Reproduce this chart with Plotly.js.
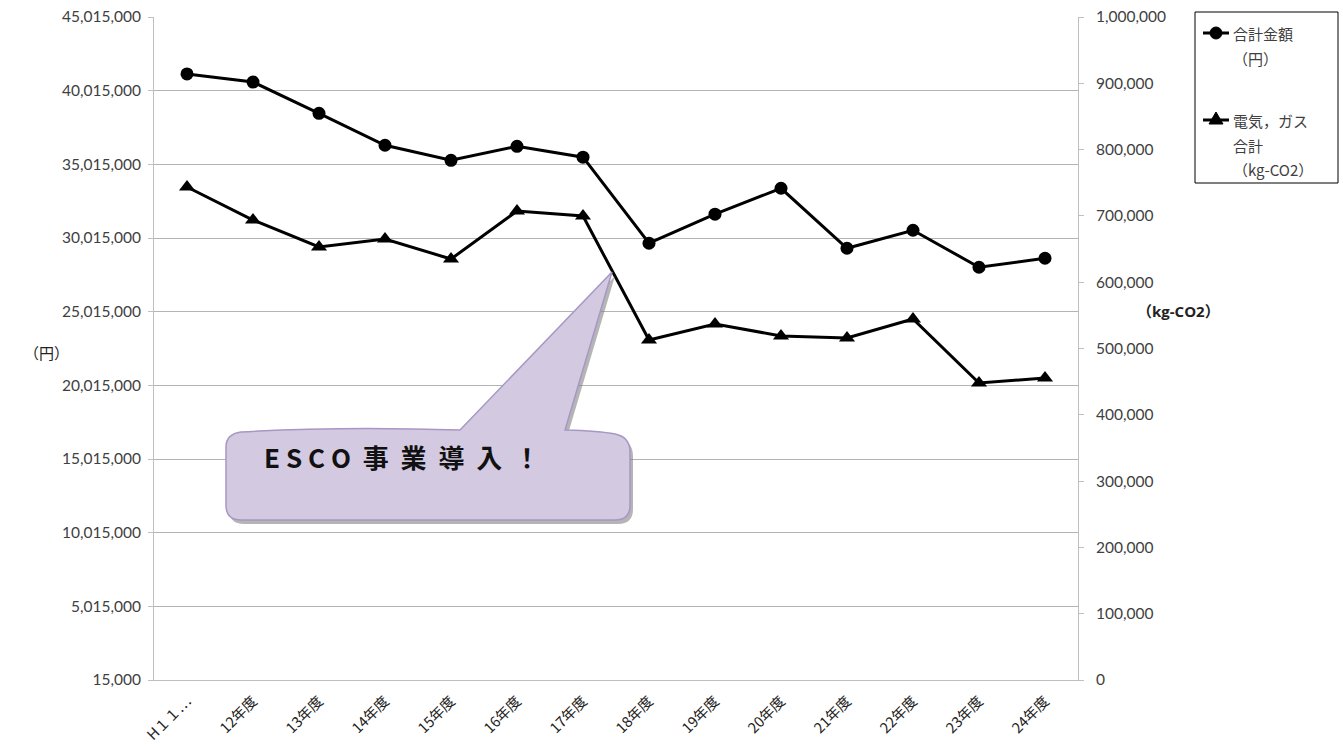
<!DOCTYPE html>
<html>
<head>
<meta charset="utf-8">
<script src="https://cdn.plot.ly/plotly-3.0.1.min.js"></script>
<style>html,body{margin:0;padding:0;background:#fff;}#chart{width:1343px;height:747px;}</style>
</head>
<body>
<div id="chart"></div>
<script>
const categories = ["H１１…","12年度","13年度","14年度","15年度","16年度","17年度","18年度","19年度","20年度","21年度","22年度","23年度","24年度"];
const costYen = [41150000,40600000,38480000,36310000,35290000,36240000,35500000,29660000,31630000,33390000,29320000,30540000,28030000,28640000];
const co2Kg = [743600,693800,653100,665200,635000,707400,699800,512800,537000,518900,515800,544500,448000,455500];
const seriesNames = ["合計金額（円）","電気，ガス合計（kg-CO2）"];
const legendLines = [["合計金額","（円）"],["電気，ガス","合計","（kg-CO2）"]];
const leftAxisLabel = "（円）";
const rightAxisLabel = "（kg-CO2）";
const calloutText = "E S C O  事  業  導  入  ！";

const L = 154, R = 1078, T = 17, B = 680, W = 1343, H = 747;
const pxn = x => (x - L) / (R - L);
const pyn = y => (B - y) / (B - T);
const px = x => pxn(x).toFixed(5);
const py = y => pyn(y).toFixed(5);
function calloutPath(dx, dy) {
  const p = (x, y) => px(x + dx) + "," + py(y + dy);
  return "M" + p(241,432) + " Q" + p(340,426) + " " + p(460,430) + " L" + p(612,272) + " L" + p(565,430) +
    " Q" + p(600,431) + " " + p(615,434) + " Q" + p(630,437) + " " + p(630,452) + " L" + p(630,505) +
    " Q" + p(630,520) + " " + p(615,520) + " L" + p(241,520) + " Q" + p(226,520) + " " + p(226,505) +
    " L" + p(226,447) + " Q" + p(226,434) + " " + p(241,432) + " Z";
}

const jp = "Noto Sans CJK JP";
const traces = [
  {x: categories, y: costYen, name: seriesNames[0], type: "scatter", mode: "lines+markers",
   line: {color: "#000", width: 3}, marker: {symbol: "circle", size: 13, color: "#000"}, yaxis: "y"},
  {x: categories, y: co2Kg, name: seriesNames[1], type: "scatter", mode: "lines+markers",
   line: {color: "#000", width: 3}, marker: {symbol: "triangle-up", size: 14, color: "#000"}, yaxis: "y2"}
];

// custom legend (decoration)
const legShapes = [
  {type: "rect", xref: "paper", yref: "paper", x0: pxn(1195), x1: pxn(1338), y0: pyn(12), y1: pyn(183),
   line: {color: "#000", width: 1}, fillcolor: "#fff"},
  {type: "line", xref: "paper", yref: "paper", x0: pxn(1203), x1: pxn(1229), y0: pyn(33), y1: pyn(33),
   line: {color: "#000", width: 3}},
  {type: "circle", xref: "paper", yref: "paper", x0: pxn(1210), x1: pxn(1222), y0: pyn(27), y1: pyn(39),
   fillcolor: "#000", line: {color: "#000", width: 1}},
  {type: "line", xref: "paper", yref: "paper", x0: pxn(1203), x1: pxn(1229), y0: pyn(120), y1: pyn(120),
   line: {color: "#000", width: 3}},
  {type: "path", xref: "paper", yref: "paper",
   path: "M" + px(1209) + "," + py(124) + " L" + px(1216) + "," + py(112) + " L" + px(1223) + "," + py(124) + " Z",
   fillcolor: "#000", line: {color: "#000", width: 1}}
];
const legAnn = [];
const legTops = [33, 120];
legendLines.forEach((lines, i) => lines.forEach((t, j) => legAnn.push({
  text: t, xref: "paper", yref: "paper", x: pxn(1231), y: pyn(legTops[i] + j * 25), xanchor: "left", yanchor: "middle",
  showarrow: false, font: {family: jp, size: 15, color: "#404040"}
})));

const layout = {
  width: W, height: H,
  margin: {l: L, r: W - R, t: T, b: H - B},
  paper_bgcolor: "#fff", plot_bgcolor: "#fff",
  font: {family: "Lato, 'Open Sans', sans-serif", size: 15, color: "#404040"},
  showlegend: false,
  xaxis: {type: "category", tickangle: -45, showgrid: false, showline: true, linecolor: "#bfbfbf", linewidth: 1,
          ticks: "", ticklabelstandoff: 6, tickfont: {family: jp, size: 14.5, color: "#222"}, range: [-0.5, 13.5], fixedrange: true},
  yaxis: {range: [15000, 45015000], tick0: 15000, dtick: 5000000, tickformat: ",d", showgrid: true,
          gridcolor: "#b4b4b4", gridwidth: 1, showline: true, linecolor: "#bfbfbf", ticks: "outside",
          ticklen: 5, tickcolor: "#bfbfbf", zeroline: false, ticklabelstandoff: 4, tickfont: {size: 15.5, color: "#404040"}},
  yaxis2: {range: [0, 1000000], dtick: 100000, tickformat: ",d", overlaying: "y", side: "right",
           showgrid: false, showline: true, linecolor: "#bfbfbf", ticks: "outside", ticklen: 5,
           tickcolor: "#bfbfbf", zeroline: false, ticklabelstandoff: 9, tickfont: {size: 15.5, color: "#404040"}},
  shapes: [
    {type: "path", xref: "paper", yref: "paper", path: calloutPath(3, 4), fillcolor: "rgba(120,120,120,0.55)",
     line: {width: 0}, layer: "above"},
    {type: "path", xref: "paper", yref: "paper", path: calloutPath(0, 0), fillcolor: "#d3cae2",
     line: {color: "#a797c4", width: 1.5}, layer: "above"}
  ].concat(legShapes),
  annotations: [
    {text: leftAxisLabel, xref: "paper", yref: "paper", x: pxn(22), y: pyn(352),
     showarrow: false, font: {family: jp, size: 15, color: "#222"}},
    {text: "<b>" + rightAxisLabel + "</b>", xref: "paper", yref: "paper", x: pxn(1222), y: pyn(311),
     showarrow: false, font: {family: "'Open Sans', " + jp, size: 15, color: "#222"}},
    {text: "<b>" + calloutText + "</b>", xref: "paper", yref: "paper", x: pxn(262), y: pyn(477),
     xanchor: "left", showarrow: false, font: {family: jp, size: 26, color: "#111"}}
  ].concat(legAnn)
};

Plotly.newPlot("chart", traces, layout, {displayModeBar: false, staticPlot: true});
</script>
</body>
</html>
